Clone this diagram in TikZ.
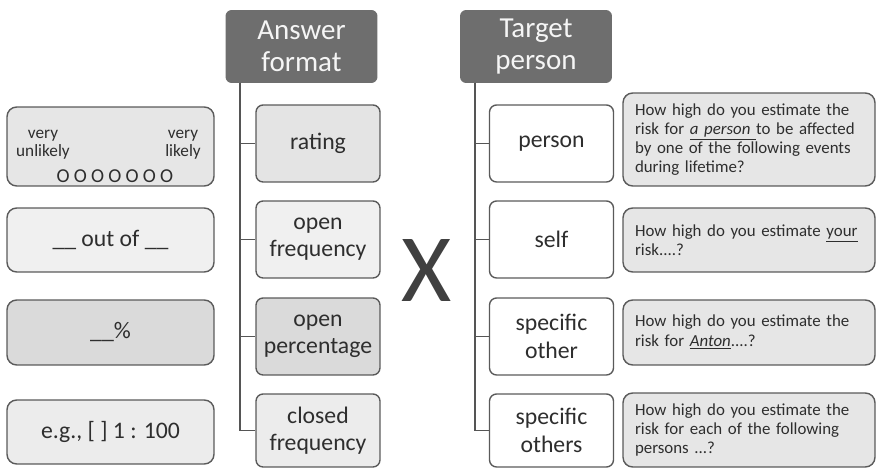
\documentclass[tikz,border=0pt]{standalone}
\usepackage{fontspec}
\setmainfont{Carlito}

\definecolor{hdrgray}{HTML}{6E6E6E}
\definecolor{boxline}{HTML}{5A5A5A}
\definecolor{linegray}{HTML}{555555}
\definecolor{txtgray}{HTML}{2E2E2E}
\definecolor{xgray}{HTML}{404040}
\definecolor{fillA}{HTML}{E4E4E4}
\definecolor{fillB}{HTML}{F0F0F0}
\definecolor{fillC}{HTML}{DADADA}
\definecolor{fillD}{HTML}{ECECEC}
\definecolor{fillQ}{HTML}{E6E6E6}

\tikzset{
  hdr/.style={rectangle, rounded corners=3.5pt, fill=hdrgray, text=white!96!black,
    minimum width=3.04cm, minimum height=1.46cm, align=center,
    font=\fontsize{16.5}{18.5}\selectfont},
  item/.style={rectangle, rounded corners=4pt, draw=boxline, line width=0.8pt,
    minimum width=2.48cm, minimum height=1.54cm, align=center, text=txtgray,
    font=\fontsize{13.5}{15.5}\selectfont},
  example/.style={rectangle, rounded corners=5.5pt, draw=boxline, line width=0.8pt,
    minimum width=4.14cm, align=center, text=txtgray,
    font=\fontsize{13.5}{15.5}\selectfont},
  question/.style={rectangle, rounded corners=5.5pt, draw=boxline, line width=0.8pt,
    fill=fillQ, minimum width=5.04cm, text width=4.56cm, inner xsep=0.24cm,
    align=left, text=txtgray, font=\fontsize{9.6}{10.9}\selectfont},
  small/.style={align=center, inner sep=0pt, text=txtgray,
    font=\fontsize{9.8}{10.2}\selectfont},
  trunk/.style={draw=linegray, line width=1.1pt}
}

\begin{document}
\begin{tikzpicture}[x=0.02cm, y=-0.02cm]
\useasboundingbox (0,0) rectangle (876,469);

% headers
\node[hdr] (hdrA) at (301.5,46.5) {Answer\\format};
\node[hdr] (hdrT) at (536,46.5) {Target\\person};

% answer formats
\node[item, fill=fillA] (rating) at (318,143.5) {rating};
\node[item, fill=fillB] (ofreq) at (318,239.5) {open\\frequency};
\node[item, fill=fillC] (operc) at (318,336.5) {open\\percentage};
\node[item, fill=fillD, minimum height=1.46cm] (cfreq) at (318,430.5) {closed\\frequency};

% target persons
\node[item, fill=white] (person) at (551.5,143.5) {person};
\node[item, fill=white] (self) at (551.5,239.5) {self};
\node[item, fill=white] (sother) at (551.5,336.5) {specific\\other};
\node[item, fill=white, minimum height=1.46cm] (sothers) at (551.5,430.5) {specific\\others};

\coordinate (ta) at (240,83);
\coordinate (tt) at (475,83);
\foreach \n in {rating,ofreq,operc,cfreq}
  \draw[trunk] (ta) |- (\n.west);
\foreach \n in {person,self,sother,sothers}
  \draw[trunk] (tt) |- (\n.west);

\node[font=\fontsize{55}{60}\selectfont, text=xgray, inner sep=0pt] (times) at (427,271) {X};

% examples of the formats
\node[example, fill=fillQ, minimum height=1.58cm] (exrate) at (110.5,146.5) {};
\node[small] (vunl) at (43,145) {very\\unlikely};
\node[small] (vlik) at (183,145) {very\\likely};
\node[small, font=\fontsize{11.2}{12}\selectfont] (scale) at (115,176)
  {O\hspace{2.4pt}O\hspace{2.4pt}O\hspace{2.4pt}O\hspace{2.4pt}O\hspace{2.4pt}O\hspace{2.4pt}O};
\node[example, fill=fillB, minimum height=1.28cm] (exfreq) at (110.5,240) {\_\_ out of \_\_};
\node[example, fill=fillC, minimum height=1.3cm] (experc) at (110.5,332.5) {\_\_\%};
\node[example, fill=fillD, minimum height=1.28cm] (exclosed) at (110.5,432) {e.g., [ ] 1 : 100};

% question wordings
\node[question, minimum height=1.86cm] (qperson) at (749,139.5)
  {How high do you estimate the\\risk for \underline{\textit{a person}\ }to be affected\\by one of the following events\\during lifetime?};
\node[question, minimum height=1.28cm] (qself) at (749,240)
  {How high do you estimate \underline{your}\\risk....?};
\node[question, minimum height=1.3cm] (qother) at (749,332.5)
  {How high do you estimate the\\risk for \underline{\textit{Anton}}....?};
\node[question, minimum height=1.48cm] (qothers) at (749,430)
  {How high do you estimate the\\risk for each of the following\\persons ...?};

\end{tikzpicture}
\end{document}
